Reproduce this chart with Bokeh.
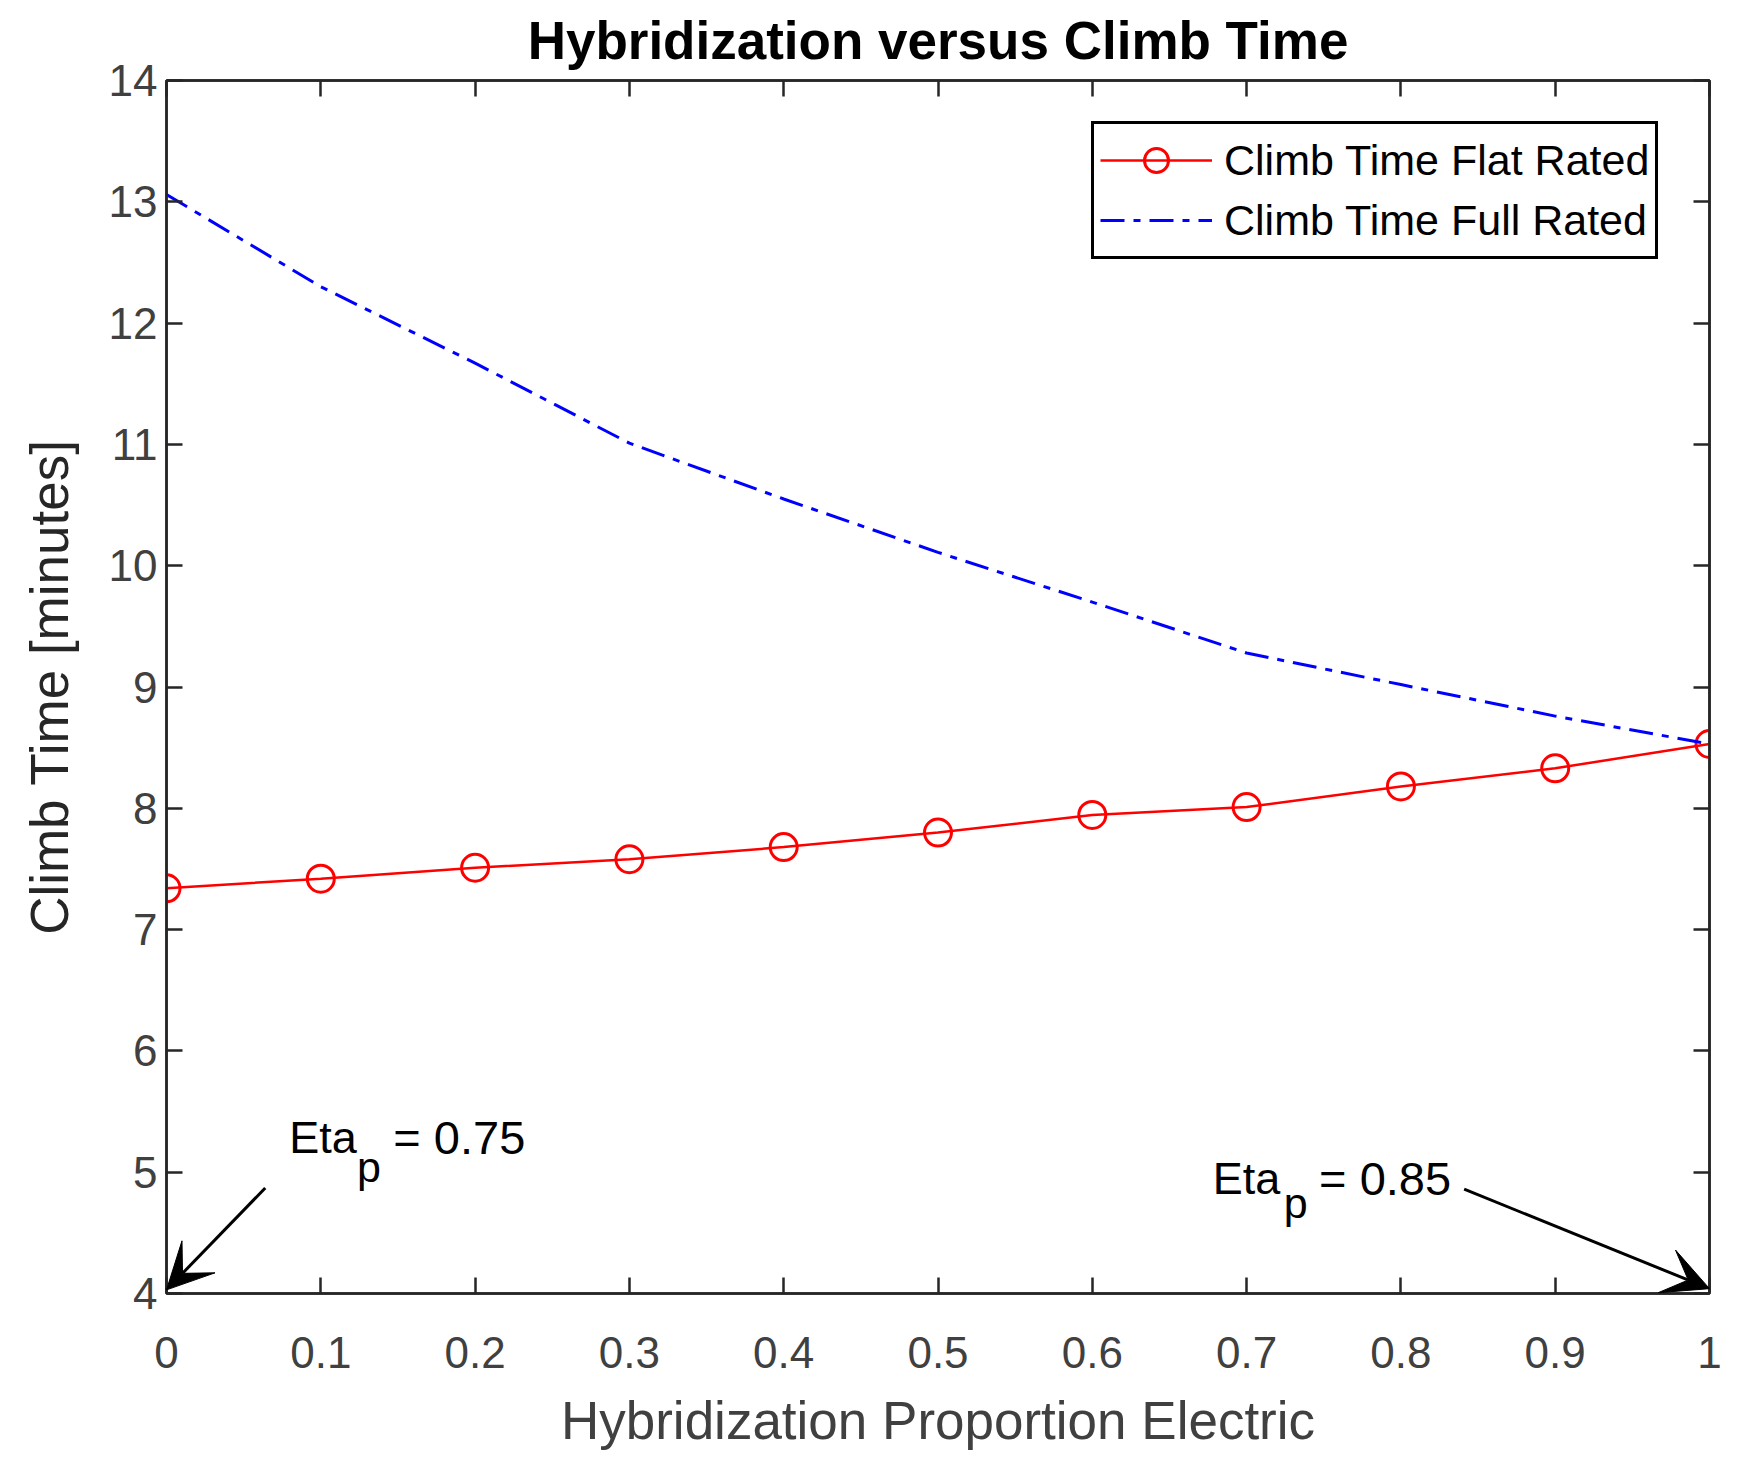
from bokeh.plotting import figure
from bokeh.models import (Range1d, LinearAxis, FixedTicker, Arrow, VeeHead, Label,
                          Legend, LegendItem)
from bokeh.embed import file_html
from bokeh.resources import INLINE

# ---------------- data ----------------
hybridization = [0.0, 0.1, 0.2, 0.3, 0.4, 0.5, 0.6, 0.7, 0.8, 0.9, 1.0]
climb_flat_rated = [7.34, 7.42, 7.51, 7.58, 7.68, 7.80, 7.945, 8.01, 8.18, 8.33, 8.53]
climb_full_rated = [13.06, 12.30, 11.67, 11.01, 10.55, 10.11, 9.70, 9.28, 9.02, 8.76, 8.53]

x_ticks = [0.0, 0.1, 0.2, 0.3, 0.4, 0.5, 0.6, 0.7, 0.8, 0.9, 1.0]
x_tick_labels = ["0", "0.1", "0.2", "0.3", "0.4", "0.5", "0.6", "0.7", "0.8", "0.9", "1"]
y_ticks = [4, 5, 6, 7, 8, 9, 10, 11, 12, 13, 14]

# annotations (data coordinates): arrow tail -> arrow tip, text anchors
ann1_arrow = (0.064, 4.87, 0.0, 4.03)
ann1_text = (0.0795, 5.29)
ann1_sub = (0.1235, 5.045)
ann1_rest = (0.147, 5.29)
ann1_value = "= 0.75"

ann2_arrow = (0.841, 4.86, 1.0, 4.04)
ann2_text = (0.678, 4.95)
ann2_sub = (0.724, 4.745)
ann2_rest = (0.747, 4.95)
ann2_value = "= 0.85"

FONT = "Liberation Sans"
AX = "#262626"
TK = "#404040"

p = figure(width=1726, height=1454, output_backend="svg", toolbar_location=None,
           x_range=Range1d(0, 1), y_range=Range1d(4, 14),
           min_border_left=166, min_border_right=17, min_border_top=80, min_border_bottom=161,
           background_fill_color="white", border_fill_color="white")

p.title.text = "Hybridization versus Climb Time"
p.title.align = "center"
p.title.vertical_align = "top"
p.title.text_font = FONT
p.title.text_font_size = "53px"
p.title.text_font_style = "bold"
p.title.text_color = "black"
p.title.standoff = 18

p.xgrid.visible = False
p.ygrid.visible = False
p.outline_line_color = AX
p.outline_line_width = 2.5
p.outline_line_alpha = 1.0

def style_axis(ax, show_labels=True):
    ax.axis_line_color = AX
    ax.axis_line_width = 2.5
    ax.major_tick_line_color = AX
    ax.major_tick_line_width = 2.5
    ax.major_tick_in = 16
    ax.major_tick_out = 0
    ax.minor_tick_line_color = None
    ax.major_label_text_font = FONT
    if show_labels:
        ax.major_label_text_color = TK
        ax.major_label_text_font_size = "44px"
    else:
        ax.major_label_text_color = None
        ax.major_label_text_font_size = "1px"
        ax.major_label_standoff = 0

xax = p.xaxis[0]
yax = p.yaxis[0]
xax.ticker = FixedTicker(ticks=x_ticks)
xax.major_label_overrides = {t: l for t, l in zip(x_ticks, x_tick_labels)}
yax.ticker = FixedTicker(ticks=y_ticks)
style_axis(xax)
style_axis(yax)
xax.major_label_standoff = 43
yax.major_label_standoff = 9
xax.axis_label = "Hybridization Proportion Electric"
yax.axis_label = "Climb Time [minutes]"
for ax, col in ((xax, TK), (yax, AX)):
    ax.axis_label_text_font = FONT
    ax.axis_label_text_font_size = "53px"
    ax.axis_label_text_font_style = "normal"
    ax.axis_label_text_color = col
xax.axis_label_standoff = 20
yax.axis_label_standoff = 27

top_ax = LinearAxis(ticker=FixedTicker(ticks=x_ticks))
right_ax = LinearAxis(ticker=FixedTicker(ticks=y_ticks))
style_axis(top_ax, show_labels=False)
style_axis(right_ax, show_labels=False)
p.add_layout(top_ax, "above")
p.add_layout(right_ax, "right")

# series
r_line = p.line(hybridization, climb_flat_rated, line_color="red", line_width=2.5)
r_circ = p.scatter(hybridization, climb_flat_rated, marker="circle", size=27,
                   line_color="red", line_width=3, fill_alpha=0)
b_line = p.line(hybridization, climb_full_rated, line_color="blue", line_width=3,
                line_dash="24 9 7 9")

legend = Legend(items=[
    LegendItem(label="Climb Time Flat Rated", renderers=[r_line, r_circ]),
    LegendItem(label="Climb Time Full Rated", renderers=[b_line]),
], location=(925, 1034))
legend.label_text_font = FONT
legend.label_text_font_size = "43px"
legend.label_text_color = "black"
legend.border_line_color = "black"
legend.border_line_width = 3
legend.border_line_alpha = 1.0
legend.background_fill_color = "white"
legend.background_fill_alpha = 1.0
legend.glyph_width = 112
legend.glyph_height = 60
legend.label_height = 60
legend.label_standoff = 12
legend.spacing = 0
legend.padding = 6
legend.margin = 0
p.add_layout(legend)

def add_annotation(arrow, text, sub, rest, value):
    xs, ys, xe, ye = arrow
    p.add_layout(Arrow(x_start=xs, y_start=ys, x_end=xe, y_end=ye,
                       line_color="black", line_width=3,
                       end=VeeHead(size=46, fill_color="black", line_color="black", line_width=1)))
    for (x, y), t, fs in ((text, "Eta", "45px"), (sub, "p", "43px"), (rest, value, "47px")):
        p.add_layout(Label(x=x, y=y, text=t, text_font=FONT, text_font_size=fs,
                           text_color="black", text_baseline="alphabetic", text_align="left"))

add_annotation(ann1_arrow, ann1_text, ann1_sub, ann1_rest, ann1_value)
add_annotation(ann2_arrow, ann2_text, ann2_sub, ann2_rest, ann2_value)

open("out.html", "w").write(file_html(p, INLINE))
